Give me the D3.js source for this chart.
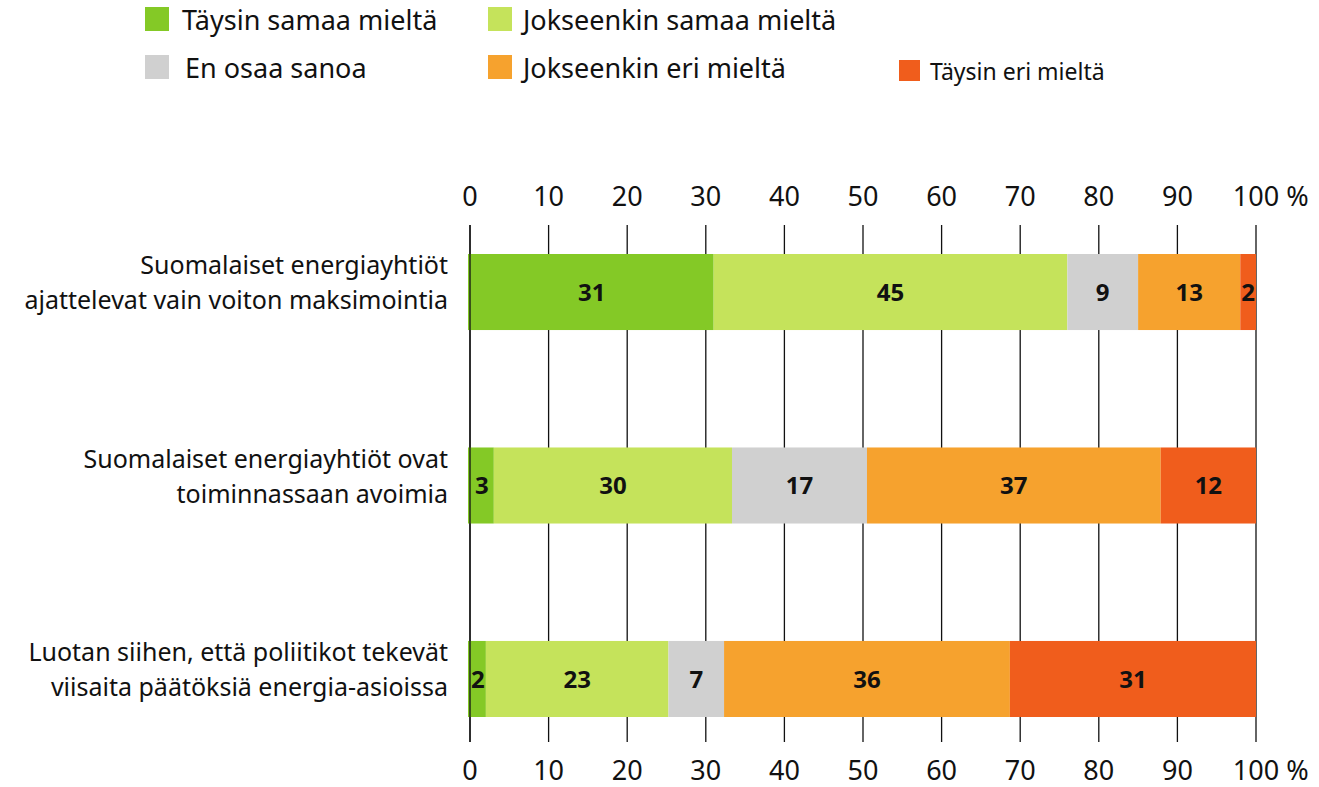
<!DOCTYPE html>
<html>
<head>
<meta charset="utf-8">
<script src="https://cdn.jsdelivr.net/npm/d3@7"></script>
<style>
  body { margin: 0; background: #fff; }
  svg { font-family: "Noto Sans", sans-serif; }
</style>
</head>
<body>
<div id="chart"></div>
<script>
// answer categories, in stacking order
const series = ['Täysin samaa mieltä', 'Jokseenkin samaa mieltä', 'En osaa sanoa', 'Jokseenkin eri mieltä', 'Täysin eri mieltä']
const colors = ['#84c926', '#c5e35b', '#d0d0d0', '#f6a22e', '#f05d1c']

// statements (two lines each)
const statements = [
  ['Suomalaiset energiayhtiöt', 'ajattelevat vain voiton maksimointia'],
  ['Suomalaiset energiayhtiöt ovat', 'toiminnassaan avoimia'],
  ['Luotan siihen, että poliitikot tekevät', 'viisaita päätöksiä energia-asioissa']
]

// percentages per statement, same order as series
const tays_samaa = [31, 3, 2]
const jok_samaa = [45, 30, 23]
const en_osaa = [9, 17, 7]
const jok_eri = [13, 37, 36]
const tays_eri = [2, 12, 31]

const ticks = [0, 10, 20, 30, 40, 50, 60, 70, 80, 90, 100]

const rows = statements.map((s, i) => ({
  key: i,
  [series[0]]: tays_samaa[i],
  [series[1]]: jok_samaa[i],
  [series[2]]: en_osaa[i],
  [series[3]]: jok_eri[i],
  [series[4]]: tays_eri[i]
}))

const width = 1319, height = 787
const margin = { top: 225, right: 63, bottom: 45, left: 470 }

const svg = d3.select('#chart').append('svg')
  .attr('width', width)
  .attr('height', height)

const x = d3.scaleLinear()
  .domain([0, 100])
  .range([margin.left, width - margin.right])

const y = d3.scaleBand()
  .domain(rows.map(d => d.key))
  .range([254, 717])
  .paddingInner(0.607)
  .paddingOuter(0)

// stack normalised to 100 % (rows 2 and 3 sum to 99)
const stack = d3.stack().keys(series).offset(d3.stackOffsetExpand)
const stacked = stack(rows)

// grid lines
svg.append('g')
  .selectAll('line')
  .data(ticks)
  .join('line')
  .attr('x1', d => x(d)).attr('x2', d => x(d))
  .attr('y1', margin.top).attr('y2', height - margin.bottom)
  .attr('stroke', '#111')
  .attr('stroke-width', 1.3)

// bars
const layer = svg.append('g')
  .selectAll('g')
  .data(stacked)
  .join('g')
  .attr('fill', (d, i) => colors[i])

layer.selectAll('rect')
  .data(d => d)
  .join('rect')
  .attr('x', d => x(d[0] * 100) - (d[0] === 0 ? 2 : 0))
  .attr('width', d => x(d[1] * 100) - x(d[0] * 100) + (d[0] === 0 ? 2 : 0))
  .attr('y', d => y(d.data.key))
  .attr('height', y.bandwidth())

// value labels
layer.selectAll('text')
  .data((d, i) => d.map(v => ({ v, val: v.data[series[i]] })))
  .join('text')
  .attr('x', d => (x(d.v[0] * 100) + x(d.v[1] * 100)) / 2)
  .attr('y', d => y(d.v.data.key) + y.bandwidth() / 2)
  .attr('dy', '0.36em')
  .attr('text-anchor', 'middle')
  .attr('fill', '#111')
  .style('font-size', '24px')
  .style('font-weight', 'bold')
  .text(d => d.val)

// zero line on top
svg.append('line')
  .attr('x1', x(0)).attr('x2', x(0))
  .attr('y1', margin.top).attr('y2', height - margin.bottom)
  .attr('stroke', '#111')
  .attr('stroke-width', 1.3)

// tick labels top and bottom
function tickLabels(yPos) {
  const g = svg.append('g')
  g.selectAll('text')
    .data(ticks)
    .join('text')
    .attr('x', d => x(d))
    .attr('y', yPos)
    .attr('text-anchor', 'middle')
    .attr('fill', '#111')
    .style('font-size', '27px')
    .text(d => d)
  // "%" after the last label
  const last = g.selectAll('text').filter(d => d === 100)
  const w = last.node().getComputedTextLength()
  last.attr('text-anchor', 'start').attr('x', x(100) - w / 2).text('100 %')
}
tickLabels(206)
tickLabels(780)

// statement labels
svg.append('g')
  .selectAll('text')
  .data(rows)
  .join('text')
  .attr('x', 448)
  .attr('y', d => y(d.key) + y.bandwidth() / 2)
  .attr('text-anchor', 'end')
  .attr('fill', '#111')
  .style('font-size', '25px')
  .selectAll('tspan')
  .data(d => statements[d.key])
  .join('tspan')
  .attr('x', 448)
  .attr('dy', (d, i) => i === 0 ? -18 : 35)
  .text(d => d)

// legend
const legendPos = [
  { x: 145, y: 7, size: 24, font: 27, tx: 182 },
  { x: 488, y: 7, size: 24, font: 27, tx: 523 },
  { x: 145, y: 55, size: 24, font: 27, tx: 185 },
  { x: 488, y: 55, size: 24, font: 27, tx: 523 },
  { x: 899, y: 60, size: 21, font: 23, tx: 930 }
]
const legend = svg.append('g')
  .selectAll('g')
  .data(series)
  .join('g')
legend.append('rect')
  .attr('x', (d, i) => legendPos[i].x)
  .attr('y', (d, i) => legendPos[i].y)
  .attr('width', (d, i) => legendPos[i].size)
  .attr('height', (d, i) => legendPos[i].size)
  .attr('fill', (d, i) => colors[i])
legend.append('text')
  .attr('x', (d, i) => legendPos[i].tx)
  .attr('y', (d, i) => legendPos[i].y + legendPos[i].size - 1)
  .attr('fill', '#111')
  .style('font-size', (d, i) => legendPos[i].font + 'px')
  .text(d => d)
</script>
</body>
</html>
